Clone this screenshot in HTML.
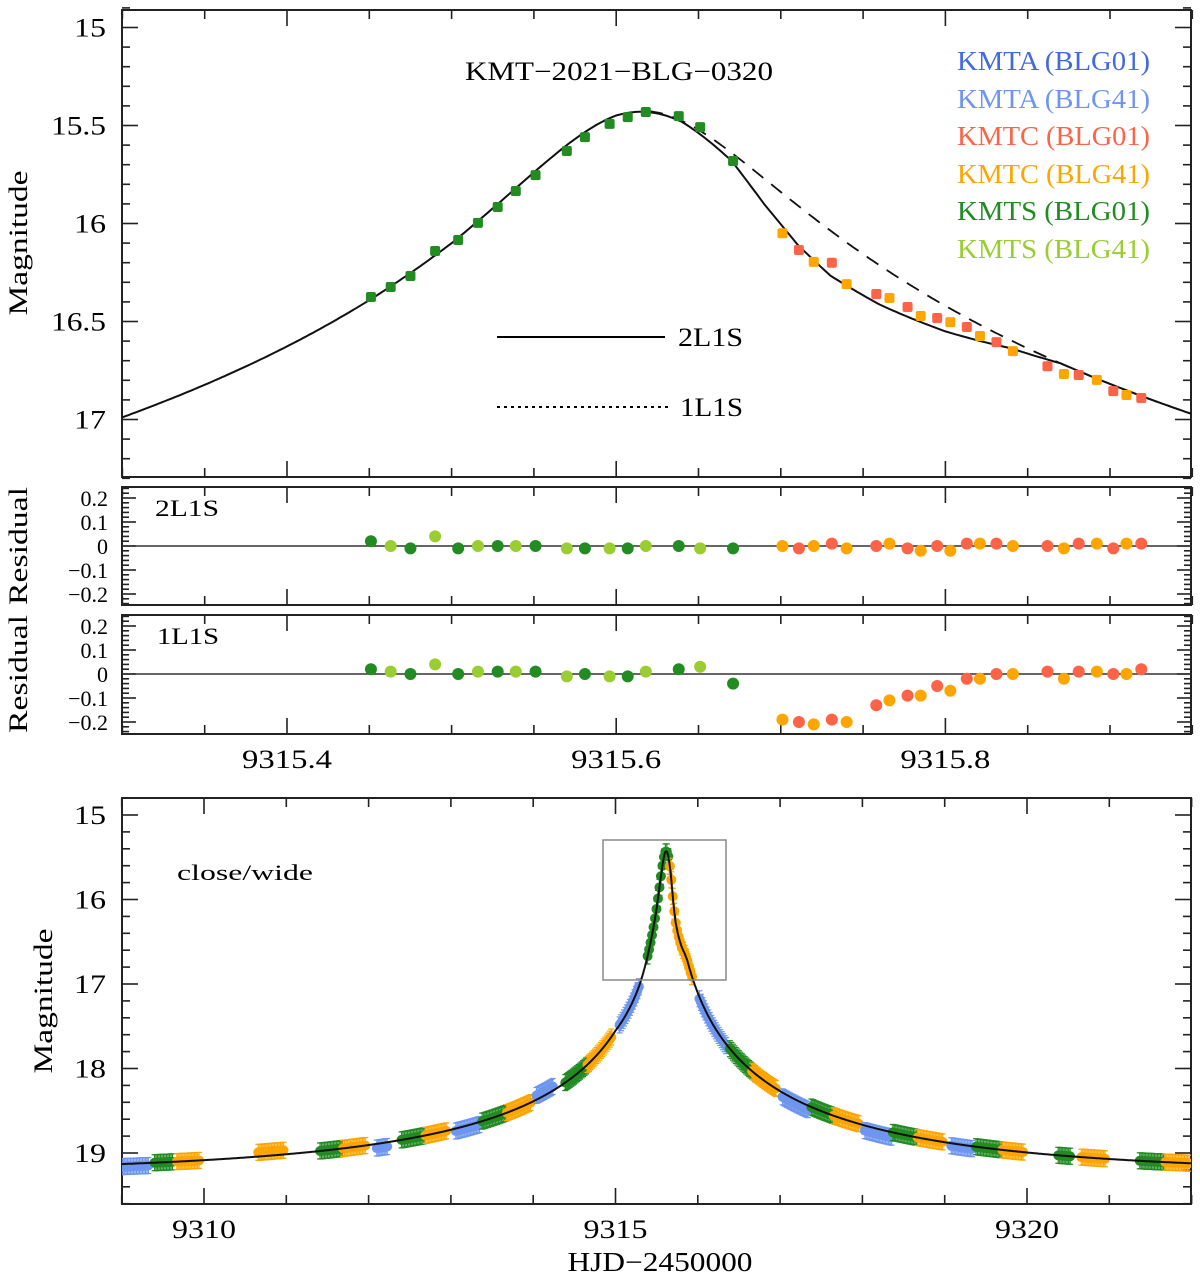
<!DOCTYPE html>
<html><head><meta charset="utf-8">
<style>
html,body{margin:0;padding:0;background:#fff;}
svg{display:block;font-family:"Liberation Serif",serif;}
</style></head>
<body>
<svg id="chart" width="1200" height="1280" viewBox="0 0 1200 1280" xmlns="http://www.w3.org/2000/svg">
<defs>
<clipPath id="cTop"><rect x="122" y="10" width="1069" height="467"/></clipPath>
<clipPath id="cR1"><rect x="122" y="487" width="1069" height="118"/></clipPath>
<clipPath id="cR2"><rect x="122" y="615" width="1069" height="119"/></clipPath>
<clipPath id="cBot"><rect x="122" y="798" width="1069" height="406"/></clipPath>
</defs>
<g id="axes"></g>
<g id="marks"></g>
<text x="465" y="80" font-size="26" textLength="308" lengthAdjust="spacingAndGlyphs">KMT−2021−BLG−0320</text>
<g font-size="27">
<text x="957" y="70" fill="#4169e1" textLength="193" lengthAdjust="spacingAndGlyphs">KMTA (BLG01)</text>
<text x="957" y="108" fill="#6e96f0" textLength="193" lengthAdjust="spacingAndGlyphs">KMTA (BLG41)</text>
<text x="957" y="145" fill="#ff6347" textLength="193" lengthAdjust="spacingAndGlyphs">KMTC (BLG01)</text>
<text x="957" y="183" fill="#ffa500" textLength="193" lengthAdjust="spacingAndGlyphs">KMTC (BLG41)</text>
<text x="957" y="220" fill="#228b22" textLength="193" lengthAdjust="spacingAndGlyphs">KMTS (BLG01)</text>
<text x="957" y="258" fill="#9acd32" textLength="193" lengthAdjust="spacingAndGlyphs">KMTS (BLG41)</text>
</g>
<g font-size="26">
<line x1="497" y1="337" x2="665" y2="337" stroke="#000" stroke-width="2"/>
<text x="678" y="346" textLength="65" lengthAdjust="spacingAndGlyphs">2L1S</text>
<line x1="497" y1="407" x2="668" y2="407" stroke="#000" stroke-width="2" stroke-dasharray="3,4"/>
<text x="680" y="416" textLength="63" lengthAdjust="spacingAndGlyphs">1L1S</text>
</g>
<text x="155" y="516" font-size="23" textLength="64" lengthAdjust="spacingAndGlyphs">2L1S</text>
<text x="157" y="644" font-size="23" textLength="62" lengthAdjust="spacingAndGlyphs">1L1S</text>
<text x="177" y="880" font-size="22" textLength="136" lengthAdjust="spacingAndGlyphs">close/wide</text>
<rect x="603" y="840" width="123" height="140" fill="none" stroke="#888" stroke-width="1.5"/>
<text transform="translate(27,243) rotate(-90)" font-size="26" text-anchor="middle" textLength="145" lengthAdjust="spacingAndGlyphs">Magnitude</text>
<text transform="translate(27,546) rotate(-90)" font-size="26" text-anchor="middle" textLength="118" lengthAdjust="spacingAndGlyphs">Residual</text>
<text transform="translate(27,674) rotate(-90)" font-size="26" text-anchor="middle" textLength="118" lengthAdjust="spacingAndGlyphs">Residual</text>
<text transform="translate(52,1001) rotate(-90)" font-size="26" text-anchor="middle" textLength="145" lengthAdjust="spacingAndGlyphs">Magnitude</text>
<text x="660" y="1271" font-size="27" text-anchor="middle" textLength="185" lengthAdjust="spacingAndGlyphs">HJD−2450000</text>
</svg>
<script>
// ---------- data ----------
const topTimes = [9315.451,9315.463,9315.475,9315.490,9315.504,9315.516,9315.528,9315.539,9315.551,9315.570,9315.581,9315.596,9315.607,9315.618,9315.638,9315.651,9315.671,
 9315.701,9315.711,9315.720,9315.731,9315.740,9315.758,9315.766,9315.777,9315.785,9315.795,9315.803,9315.813,9315.821,9315.831,9315.841,9315.862,9315.872,9315.881,9315.892,9315.902,9315.910,9315.919];
const topMags = [16.375,16.324,16.268,16.14,16.084,15.997,15.916,15.834,15.753,15.63,15.559,15.492,15.457,15.431,15.452,15.508,15.681,
 16.05,16.135,16.196,16.2,16.309,16.36,16.38,16.426,16.472,16.482,16.503,16.528,16.574,16.605,16.651,16.728,16.768,16.773,16.798,16.855,16.875,16.89];
const topSets = ['S1','S41','S1','S41','S1','S41','S1','S41','S1','S41','S1','S41','S1','S41','S1','S41','S1',
 'C41','C1','C41','C1','C41','C1','C41','C1','C41','C1','C41','C1','C41','C1','C41','C1','C41','C1','C41','C1','C41','C1'];
const res2L1S = [0.02,0.0,-0.01,0.04,-0.01,0,0,0,0,-0.01,-0.01,-0.01,-0.01,0,0,-0.01,-0.01,
 0,-0.01,0,0.01,-0.01,0,0.01,-0.01,-0.02,0,-0.02,0.01,0.01,0.01,0,0,-0.01,0.01,0.01,-0.01,0.01,0.01];
const res1L1S = [0.02,0.01,0,0.04,0,0.01,0.01,0.01,0.01,-0.01,0,-0.01,-0.01,0.01,0.02,0.03,-0.04,
 -0.19,-0.20,-0.21,-0.19,-0.20,-0.13,-0.11,-0.09,-0.09,-0.05,-0.07,-0.02,-0.02,0,0,0.01,-0.02,0.01,0.01,0,0,0.02];
// 2L1S deviation from single-lens model (mag)
const devTimes = [9315.0,9315.3,9315.45,9315.5,9315.55,9315.6,9315.64,9315.67,9315.69,9315.71,9315.73,9315.76,9315.80,9315.84,9315.87];
const devMags  = [0,0.075,0.07,0.065,0.035,0.005,0.005,0.04,0.13,0.2,0.23,0.2,0.13,0.04,0];
// 1L1S model deviation (same pre-peak shape)
const dev1Times = [9315.0,9315.3,9315.45,9315.5,9315.55,9315.6];
const dev1Mags  = [0,0.075,0.07,0.065,0.035,0.005];
// single-lens model parameters
const modelT0 = [9315.615], modelU0 = [0.0135], modelTE = [5.8], modelFs = [0.45], modelBase = [19.25];
// bottom panel observing clusters
const clStart = [9309.0,9309.4,9309.67,9310.66,9311.41,9311.69,9312.1,9312.4,9312.69,9313.06,9313.38,9313.68,9314.04,9314.39,9314.66,9315.05,9315.39,9315.66,
 9316.02,9316.39,9316.66,9317.03,9317.38,9317.65,9318.03,9318.37,9318.67,9319.08,9319.38,9319.7,9320.38,9320.66,9321.37,9321.68];
const clEnd   = [9309.33,9309.63,9309.94,9310.98,9311.69,9311.96,9312.24,9312.69,9312.95,9313.35,9313.68,9313.97,9314.25,9314.68,9314.95,9315.29,9315.66,9315.94,
 9316.36,9316.7,9316.96,9317.35,9317.69,9317.97,9318.36,9318.67,9318.98,9319.34,9319.7,9319.96,9320.53,9320.95,9321.68,9321.97];
const clSets  = ['A41','S1','C41','C41','S1','C41','A41','S1','C41','A41','S1','C41','A41','S1','C41','A41','S1','C41',
 'A41','S1','C41','A41','S1','C41','A41','S1','C41','A41','S1','C41','S1','C41','S1','C41'];
const clOffset= [0.03,0,0,-0.05,0,0,0.05,0,0,0.03,0,0,-0.05,0,0,0,0,0,
 0.02,0,0,0.05,0,0,0.06,0,0,0.03,0,0,0,0,0,0];
const yTopTicks = ['15','15.5','16','16.5','17'];
const xTopTicks = ['9315.4','9315.6','9315.8'];
const resTicks = ['0.2','0.1','0','−0.1','−0.2'];
const yBotTicks = ['15','16','17','18','19'];
const xBotTicks = ['9310','9315','9320'];

const colors = {A1:'#4169e1',A41:'#6e96f0',C1:'#ff6347',C41:'#ffa500',S1:'#228b22',S41:'#9acd32'};

// ---------- scales ----------
const xT = t => 122.4 + (t-9315.3)*1646;
const yT = m => 27.5 + (m-15)*196;
const yR1 = r => 546 - r*240;
const yR2 = r => 674 - r*240;
const xB = t => 615.5 + (t-9315)*82.3;
const yB = m => 815 + (m-15)*84.5;

const NS='http://www.w3.org/2000/svg';
const axes=document.getElementById('axes'), marks=document.getElementById('marks');
function mk(tag, attrs, parent){const e=document.createElementNS(NS,tag);for(const k in attrs)e.setAttribute(k,attrs[k]);(parent||marks).appendChild(e);return e;}

function pacz(t){
  const u=Math.hypot(modelU0[0],(t-modelT0[0])/modelTE[0]);
  const A=(u*u+2)/(u*Math.sqrt(u*u+4));
  return modelBase[0]-2.5*Math.log10(1+modelFs[0]*(A-1));
}
function interp(ts,vs,t){
  if(t<=ts[0]||t>=ts[ts.length-1])return 0;
  for(let i=0;i<ts.length-1;i++){if(t>=ts[i]&&t<=ts[i+1]){const f=(t-ts[i])/(ts[i+1]-ts[i]);return vs[i]+f*(vs[i+1]-vs[i]);}}
  return 0;
}
const model1=t=>pacz(t)+interp(dev1Times,dev1Mags,t);
const model2=t=>pacz(t)+interp(devTimes,devMags,t);

// ---------- frames & ticks ----------
function frame(name,x0,y0,x1,y1){
  const r=mk('rect',{x:x0,y:y0,width:x1-x0,height:y1-y0,fill:'none',stroke:'#222','stroke-width':2},axes);
  
  
}
function xticks(scale,y0,y1,tmin,tmax,minorStep,majorStep,majLen,minLen){
  const g=mk('g',{stroke:'#222','stroke-width':1.6},axes);
  
  
  const n0=Math.ceil(tmin/minorStep-1e-6), n1=Math.floor(tmax/minorStep+1e-6);
  for(let n=n0;n<=n1;n++){const t=n*minorStep;const isMaj=Math.abs(t/majorStep-Math.round(t/majorStep))<1e-6;const L=isMaj?majLen:minLen;const x=scale(t);
    mk('line',{x1:x,y1:y1,x2:x,y2:y1-L},g);mk('line',{x1:x,y1:y0,x2:x,y2:y0+L},g);}
}
function yticks(scale,x0,x1,vmin,vmax,minorStep,majorStep,majLen,minLen){
  const g=mk('g',{stroke:'#222','stroke-width':1.6},axes);
  
  
  const n0=Math.ceil(vmin/minorStep-1e-6), n1=Math.floor(vmax/minorStep+1e-6);
  for(let n=n0;n<=n1;n++){const v=n*minorStep;const isMaj=Math.abs(v/majorStep-Math.round(v/majorStep))<1e-6;const L=isMaj?majLen:minLen;const y=scale(v);
    mk('line',{x1:x0,y1:y,x2:x0+L,y2:y},g);mk('line',{x1:x1,y1:y,x2:x1-L,y2:y},g);}
}
function label(txt,x,y,size,anchor,name,perChar){
  const e=mk('text',{x:x,y:y,'font-size':size,'text-anchor':anchor},axes);e.textContent=txt;
  if(perChar){e.setAttribute('textLength',(txt.replace('.','').length*perChar+(txt.includes('.')?7:0)).toFixed(0));e.setAttribute('lengthAdjust','spacingAndGlyphs');}
  
  
}
frame('top-panel-frame',122,10,1191,477);
frame('residual-2l1s-frame',122,487,1191,605);
frame('residual-1l1s-frame',122,615,1191,734);
frame('bottom-panel-frame',122,798,1191,1204);
xticks(xT,10,477,9315.3,9315.95,0.05,0.2,16,9);
xticks(xT,487,605,9315.3,9315.95,0.05,0.2,16,9);
xticks(xT,615,734,9315.3,9315.95,0.05,0.2,16,9);
xticks(xB,798,1204,9309,9322,1,5,16,9);
yticks(yT,122,1191,14.9,17.3,0.1,0.5,16,8);
yticks(yR1,122,1191,-0.24,0.24,0.02,0.1,14,7);
yticks(yR2,122,1191,-0.24,0.24,0.02,0.1,14,7);
yticks(yB,122,1191,14.8,19.6,0.2,1,16,8);
yTopTicks.forEach(s=>label(s,106,yT(parseFloat(s))+9,26,'end','top-y-tick-label',16));
xTopTicks.forEach(s=>label(s,xT(parseFloat(s)),768,26,'middle','top-x-tick-label',16.5));
resTicks.forEach(s=>{const v=parseFloat(s.replace('−','-'));label(s,108,yR1(v)+8,22,'end','res1-y-tick-label');label(s,108,yR2(v)+8,22,'end','res2-y-tick-label');});
yBotTicks.forEach(s=>label(s,106,yB(parseFloat(s))+9,26,'end','bottom-y-tick-label',16));
xBotTicks.forEach(s=>label(s,xB(parseFloat(s)),1238,26,'middle','bottom-x-tick-label',16));

// zero lines
[yR1,yR2].forEach(s=>{const l=mk('line',{x1:122,x2:1191,y1:s(0),y2:s(0),stroke:'#333','stroke-width':1.6});
  
  });

// ---------- top panel models ----------
function pathFrom(fn,t0,t1,step,xs,ys){let d='';for(let t=t0;t<=t1+1e-9;t+=step){d+=(d?'L':'M')+xs(t).toFixed(1)+','+ys(fn(t)).toFixed(1);}return d;}
const gTop=mk('g',{'clip-path':'url(#cTop)'});


const dash=mk('path',{d:pathFrom(model1,9315.62,9315.95,0.002,xT,yT),fill:'none',stroke:'#111','stroke-width':1.8,'stroke-dasharray':'14,10'},gTop);


const sol=mk('path',{d:pathFrom(model2,9315.29,9315.95,0.002,xT,yT),fill:'none',stroke:'#111','stroke-width':2},gTop);



topTimes.forEach((t,i)=>{
  const c=colors[topSets[i]==='S41'?'S1':topSets[i]];
  const x=xT(t), y=yT(topMags[i]);
  const p=mk('rect',{x:x-5,y:y-5,width:10,height:10,rx:2,fill:c},gTop);
  
  
  const g1=mk('g',{'clip-path':'url(#cR1)'});
  const r1=mk('circle',{cx:x,cy:yR1(res2L1S[i]),r:6,fill:colors[topSets[i]]},g1);
  
  
  const g2=mk('g',{'clip-path':'url(#cR2)'});
  const r2=mk('circle',{cx:x,cy:yR2(res1L1S[i]),r:6,fill:colors[topSets[i]]},g2);
  
  
});

// ---------- bottom panel ----------
const gBot=mk('g',{'clip-path':'url(#cBot)'});


clStart.forEach((s,i)=>{
  const c=colors[clSets[i]];
  const step=(clEnd[i]-s)<0.35?0.018:0.03;
  const g=mk('g',{fill:c,stroke:c,'stroke-width':1.2},gBot);
  
  
  for(let t=s;t<=clEnd[i]+1e-9;t+=step){
    const x=xB(t), y=yB(model2(t)+clOffset[i]);
    mk('line',{x1:x,x2:x,y1:y-8,y2:y+8},g);
    mk('line',{x1:x-3,x2:x+3,y1:y-8,y2:y-8},g);
    mk('line',{x1:x-3,x2:x+3,y1:y+8,y2:y+8},g);
    mk('circle',{cx:x,cy:y,r:5,stroke:'none'},g);
  }
});
const bc=mk('path',{d:pathFrom(model2,9309,9322,0.004,xB,yB),fill:'none',stroke:'#111','stroke-width':2},gBot);


</script>
</body></html>
